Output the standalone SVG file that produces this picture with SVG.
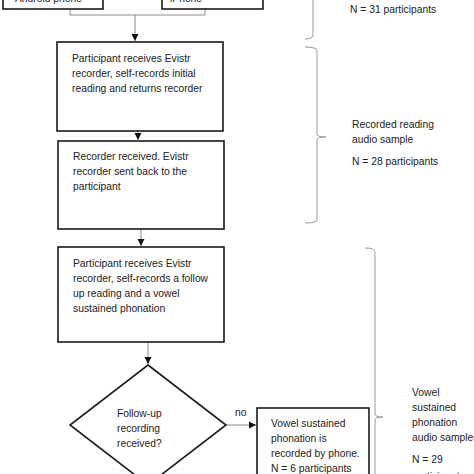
<svg xmlns="http://www.w3.org/2000/svg" width="474" height="474" viewBox="0 0 474 474">
<defs>
<style>
.box{fill:#fff;stroke:#1a1a1a;stroke-width:1.6}
.t{font-family:"Liberation Sans",Arial,sans-serif;font-size:10.3px;fill:#222}
.c{fill:none;stroke:#8a8a8a;stroke-width:1}
.br{fill:none;stroke:#9a9a9a;stroke-width:1}
</style>
<marker id="ah" markerWidth="8" markerHeight="8" refX="7" refY="4" orient="auto" markerUnits="userSpaceOnUse">
<path d="M0,0.5 L7,4 L0,7.5 Z" fill="#111"/>
</marker>
</defs>
<rect width="474" height="474" fill="#fff"/>

<g id="connectors">
<path class="c" d="M70,9 V15 H205 V9"/>
<path class="c" d="M135,15 V41" marker-end="url(#ah)"/>
<path class="c" d="M138,131 V140" marker-end="url(#ah)"/>
<path class="c" d="M141,229 V246" marker-end="url(#ah)"/>
<path class="c" d="M148,342 V364" marker-end="url(#ah)"/>
<path class="c" d="M226,425 H256" marker-end="url(#ah)"/>
<text class="t" x="235" y="416">no</text>
</g>

<g id="top-left">
<rect class="box" x="3" y="-20" width="100" height="29"/>
<text class="t" x="15" y="1.5">Android phone</text>
</g>
<g id="top-right">
<rect class="box" x="162" y="-20" width="101" height="29"/>
<text class="t" x="170" y="1.5">iPhone</text>
</g>

<g id="node1">
<rect class="box" x="57" y="42" width="166" height="89"/>
<text class="t" x="72" y="62">Participant receives Evistr</text>
<text class="t" x="72" y="77">recorder, self-records initial</text>
<text class="t" x="72" y="92">reading and returns recorder</text>
</g>

<g id="node2">
<rect class="box" x="58" y="141" width="166" height="88"/>
<text class="t" x="73" y="160">Recorder received. Evistr</text>
<text class="t" x="73" y="175">recorder sent back to the</text>
<text class="t" x="73" y="190">participant</text>
</g>

<g id="node3">
<rect class="box" x="58" y="247" width="166" height="95"/>
<text class="t" x="73" y="267">Participant receives Evistr</text>
<text class="t" x="73" y="282">recorder, self-records a follow</text>
<text class="t" x="73" y="297">up reading and a vowel</text>
<text class="t" x="73" y="312">sustained phonation</text>
</g>

<g id="decision">
<path class="box" d="M148,365 L226,425 L148,485 L70,425 Z"/>
<text class="t" x="117" y="417">Follow-up</text>
<text class="t" x="117" y="432">recording</text>
<text class="t" x="117" y="447">received?</text>
</g>

<g id="node4">
<rect class="box" x="257" y="408" width="112" height="80"/>
<text class="t" x="271" y="427">Vowel sustained</text>
<text class="t" x="271" y="442">phonation is</text>
<text class="t" x="271" y="457">recorded by phone.</text>
<text class="t" x="271" y="472">N = 6 participants</text>
</g>

<g id="bracket1">
<path class="br" d="M313,-10 V35 Q313,39 305,39"/>
<text class="t" x="350" y="13">N = 31 participants</text>
</g>

<g id="bracket2">
<path class="br" d="M305,47 Q317,47 317,51 V134 Q317,137 326,137 Q317,137 317,140 V220 Q317,223 305,223"/>
<text class="t" x="352" y="128">Recorded reading</text>
<text class="t" x="352" y="143">audio sample</text>
<text class="t" x="352" y="165">N = 28 participants</text>
</g>

<g id="bracket3">
<path class="br" d="M365,248 Q375,248 375,252 V414 Q375,417 383,417 Q375,417 375,420 V480"/>
<text class="t" x="412" y="396">Vowel</text>
<text class="t" x="412" y="411">sustained</text>
<text class="t" x="412" y="426">phonation</text>
<text class="t" x="412" y="441">audio samples</text>
<text class="t" x="412" y="463">N = 29</text>
<text class="t" x="412" y="480">participants</text>
</g>
</svg>
